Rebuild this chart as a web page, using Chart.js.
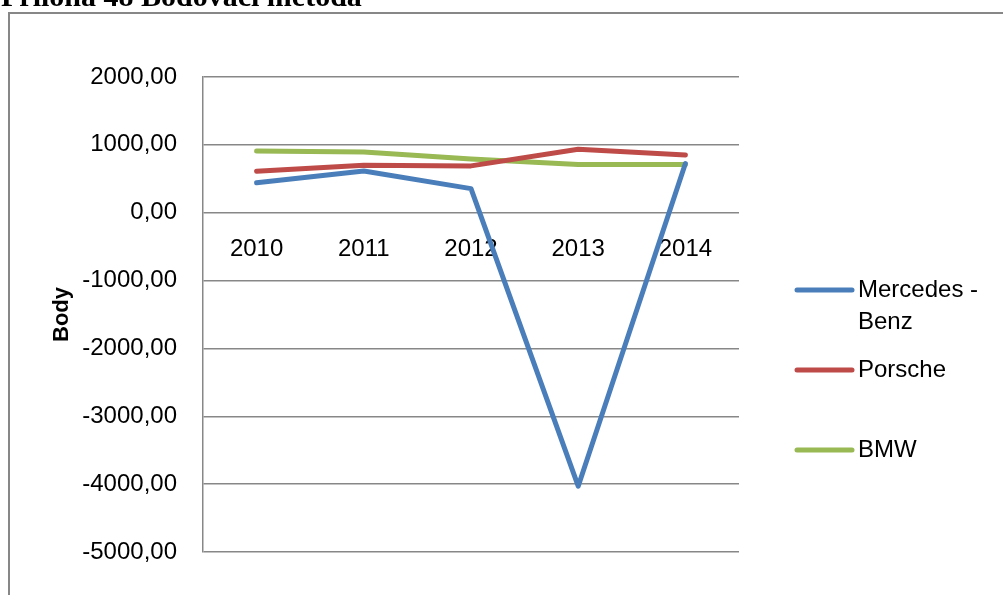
<!DOCTYPE html>
<html>
<head>
<meta charset="utf-8">
<script src="https://cdn.jsdelivr.net/npm/chart.js@4.4.1/dist/chart.umd.min.js"></script>
<style>
  html, body { margin: 0; padding: 0; background: #fff; }
  #wrap { position: relative; width: 1003px; height: 595px; }
</style>
</head>
<body>
<div id="wrap"><canvas id="chart" width="1003" height="595"></canvas></div>
<script>
// data
const years = ['2010', '2011', '2012', '2013', '2014'];
const seriesNames = ['Mercedes - Benz', 'Porsche', 'BMW'];
const mercedes = [440, 615, 355, -4030, 725];
const porsche = [610, 700, 690, 935, 850];
const bmw = [910, 895, 790, 710, 710];
const yTicks = [2000, 1000, 0, -1000, -2000, -3000, -4000, -5000];
const colors = ['#4A7EBB', '#BE4B48', '#98B954'];

const FONT = '"Liberation Sans", Arial, sans-serif';

// title above the frame + frame lines
const framePlugin = {
  id: 'frame',
  beforeDraw(chart) {
    const ctx = chart.ctx;
    ctx.save();
    ctx.fillStyle = '#fff';
    ctx.fillRect(0, 0, chart.width, chart.height);
    ctx.strokeStyle = '#878787';
    ctx.lineWidth = 2;
    ctx.beginPath();
    ctx.moveTo(9, chart.height);
    ctx.lineTo(9, 13);
    ctx.lineTo(chart.width, 13);
    ctx.stroke();
    ctx.fillStyle = '#000';
    ctx.font = 'bold 30px "Liberation Serif", "Times New Roman", serif';
    ctx.textBaseline = 'alphabetic';
    ctx.fillText('Příloha 48 Bodovací metoda', 1, 6);
    ctx.restore();
  }
};

// legend on the right, wrapped text like the original
const legendPlugin = {
  id: 'sideLegend',
  afterDraw(chart) {
    const ctx = chart.ctx;
    const x0 = chart.chartArea.right + 58;
    const maxW = chart.width - x0 - 66 - 8;
    let y = 290;
    ctx.save();
    ctx.font = '24px ' + FONT;
    ctx.textBaseline = 'middle';
    chart.data.datasets.forEach(ds => {
      ctx.strokeStyle = ds.borderColor;
      ctx.lineWidth = 5;
      ctx.lineCap = 'round';
      ctx.beginPath();
      ctx.moveTo(x0, y);
      ctx.lineTo(x0 + 55, y);
      ctx.stroke();
      // simple word wrap
      const words = ds.label.split(' ');
      const lines = [];
      let cur = '';
      words.forEach(w => {
        const t = cur ? cur + ' ' + w : w;
        if (cur && ctx.measureText(t).width > maxW) { lines.push(cur); cur = w; }
        else cur = t;
      });
      lines.push(cur);
      ctx.fillStyle = '#000';
      lines.forEach((l, i) => ctx.fillText(l, x0 + 61, y + i * 32));
      y += 80;
    });
    ctx.restore();
  }
};

const datasets = [mercedes, porsche, bmw].map((vals, i) => ({
  label: seriesNames[i],
  data: vals,
  borderColor: colors[i],
  backgroundColor: colors[i],
  borderWidth: 5,
  borderCapStyle: 'round',
  borderJoinStyle: 'round',
  pointRadius: 0,
  tension: 0,
  fill: false
}));

new Chart(document.getElementById('chart'), {
  type: 'line',
  data: { labels: years, datasets: datasets },
  options: {
    responsive: false,
    animation: false,
    layout: { padding: { left: 40, top: 77, right: 264, bottom: 43 } },
    plugins: {
      legend: { display: false },
      tooltip: { enabled: false }
    },
    scales: {
      x: {
        position: { y: 0 },
        offset: true,
        grid: { display: false, drawTicks: false },
        border: { display: false },
        ticks: { color: '#000', font: { family: FONT, size: 24 }, padding: 22, maxRotation: 0 }
      },
      y: {
        min: Math.min(...yTicks),
        max: Math.max(...yTicks),
        afterFit(scale) { scale.width = 163; },
        grid: { color: '#878787', lineWidth: 1.5, drawTicks: false },
        border: { display: true, color: '#878787', width: 1.5 },
        ticks: {
          stepSize: 1000,
          color: '#000',
          padding: 26,
          font: { family: FONT, size: 24 },
          callback: v => v.toFixed(2).replace('.', ',')
        },
        title: {
          display: true,
          text: 'Body',
          color: '#000',
          font: { family: FONT, size: 22, weight: 'bold' },
          padding: { top: 9, bottom: 0 }
        }
      }
    }
  },
  plugins: [framePlugin, legendPlugin]
});
</script>
</body>
</html>
